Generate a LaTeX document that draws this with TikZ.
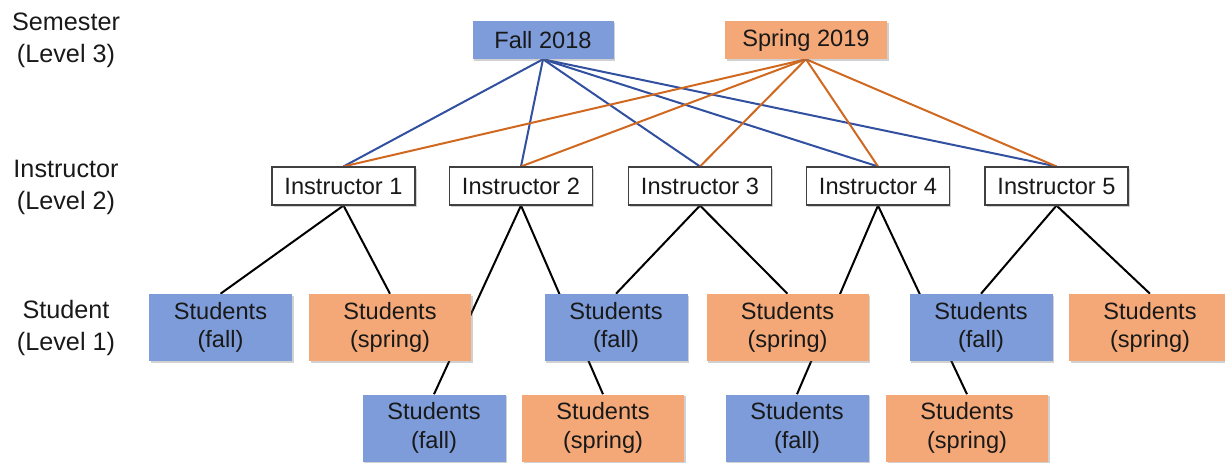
\documentclass[tikz,border=0pt]{standalone}
\usepackage{fontspec}
\setmainfont{Liberation Sans}
\usetikzlibrary{shadows}
\definecolor{fallfill}{RGB}{125,156,217}
\definecolor{springfill}{RGB}{244,168,119}
\definecolor{fallline}{RGB}{50,80,160}
\definecolor{springline}{RGB}{208,104,32}
\definecolor{txt}{RGB}{25,25,25}
\pgfdeclarelayer{edges}
\pgfsetlayers{edges,main}
\begin{document}
\begin{tikzpicture}[x=0.75pt,y=-0.75pt,
  box/.style={rectangle, inner sep=0pt, align=center, text=txt,
    font=\fontsize{17.7}{21.5}\selectfont,
    drop shadow={shadow xshift=1.2pt, shadow yshift=-1.2pt, opacity=0.3, fill=black!60}},
  instbox/.style={box, draw=black!75, line width=0.8pt, fill=white,
    minimum width=107.25pt, minimum height=28.5pt},
  semfall/.style={box, fill=fallfill, minimum width=105.75pt, minimum height=28.5pt},
  semspring/.style={box, fill=springfill, minimum width=121.5pt, minimum height=28.5pt},
  studfall/.style={box, fill=fallfill, minimum width=107.25pt, minimum height=50.25pt},
  studspring/.style={box, fill=springfill, minimum width=121.5pt, minimum height=50.25pt},
  levlabel/.style={align=center, text=txt, inner sep=0pt, font=\fontsize{18.9}{24}\selectfont},
  fline/.style={draw=fallline, line width=1.5pt},
  sline/.style={draw=springline, line width=1.5pt},
  kline/.style={draw=black, line width=1.5pt}]
\path[use as bounding box] (0,0) rectangle (1225,464);
\clip (0,0) rectangle (1225,464);

% level labels
\node[levlabel] (lab3) at (66,40) {Semester\\(Level 3)};
\node[levlabel] (lab2) at (66,187) {Instructor\\(Level 2)};
\node[levlabel] (lab1) at (66,328) {Student\\(Level 1)};

% semesters
\node[semfall]   (fall)   at (543,40)  {Fall 2018};
\node[semspring] (spring) at (806,40)  {Spring 2019};

% instructors
\node[instbox] (i1) at (343.5,186) {Instructor 1};
\node[instbox] (i2) at (521,186)   {Instructor 2};
\node[instbox] (i3) at (700,186)   {Instructor 3};
\node[instbox] (i4) at (878,186)   {Instructor 4};
\node[instbox] (i5) at (1056.5,186) {Instructor 5};

% students row 1
\node[studfall]   (s1) at (220.5,327.5) {Students\\(fall)};
\node[studspring] (s2) at (390,327.5)   {Students\\(spring)};
\node[studfall]   (s3) at (616,327.5)   {Students\\(fall)};
\node[studspring] (s4) at (787.5,327.5) {Students\\(spring)};
\node[studfall]   (s5) at (981,327.5)   {Students\\(fall)};
\node[studspring] (s6) at (1150,327.5)  {Students\\(spring)};

% students row 2
\node[studfall]   (r1) at (434,428) {Students\\(fall)};
\node[studspring] (r2) at (603,428) {Students\\(spring)};
\node[studfall]   (r3) at (797,428) {Students\\(fall)};
\node[studspring] (r4) at (967,428) {Students\\(spring)};

\begin{pgfonlayer}{edges}
  \foreach \i in {i1,i2,i3,i4,i5} {
    \draw[fline] (fall.south) -- (\i.north);
  }
  \foreach \i in {i1,i2,i3,i4,i5} {
    \draw[sline] (spring.south) -- (\i.north);
  }
  \draw[kline] (i1.south) -- (s1.north);
  \draw[kline] (i1.south) -- (s2.north);
  \draw[kline] (i2.south) -- (r1.north);
  \draw[kline] (i2.south) -- (r2.north);
  \draw[kline] (i3.south) -- (s3.north);
  \draw[kline] (i3.south) -- (s4.north);
  \draw[kline] (i4.south) -- (r3.north);
  \draw[kline] (i4.south) -- (r4.north);
  \draw[kline] (i5.south) -- (s5.north);
  \draw[kline] (i5.south) -- (s6.north);
\end{pgfonlayer}
\end{tikzpicture}
\end{document}
